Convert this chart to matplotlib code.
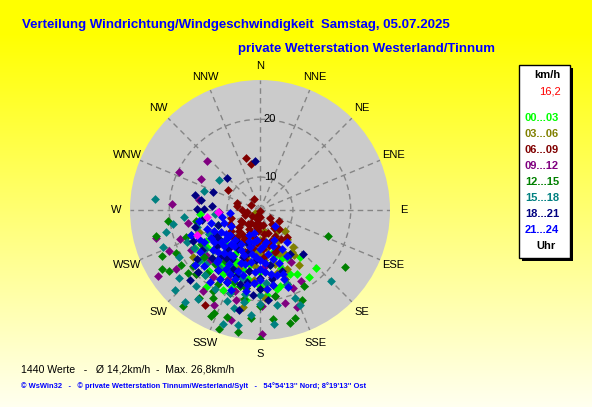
import numpy as np
import matplotlib
matplotlib.use("Agg")
import matplotlib.pyplot as plt
from matplotlib.patches import Rectangle

plt.rcParams['font.family'] = ['Liberation Sans', 'DejaVu Sans']

# wind samples: (direction in degrees, speed in km/h)
h00_03 = [(136, 18.3), (144, 18.7), (168, 18.3), (189, 20.0), (266, 14.7), (240, 17.3), (215, 20.6),
          (200, 12.0), (210, 13.0), (220, 14.0), (230, 15.0), (190, 14.0), (180, 15.0), (170, 16.0),
          (160, 15.0), (150, 14.0), (200, 16.0), (210, 17.0), (220, 18.0), (230, 17.5), (240, 15.0),
          (195, 18.0), (185, 17.0), (175, 13.0), (165, 12.0), (155, 16.5), (205, 15.0), (225, 12.5),
          (235, 13.0), (245, 14.0), (250, 12.0), (215, 16.0), (190, 16.5), (150, 17.0), (140, 15.0),
          (160, 12.5), (175, 19.0), (205, 19.5), (230, 11.0), (200, 10.0),
          (195, 13.0), (185, 11.5), (205, 14.0), (215, 11.5), (225, 16.0), (180, 17.5), (170, 14.0),
          (160, 17.0), (200, 18.5), (210, 15.5), (190, 19.0), (235, 15.5), (220, 19.0), (165, 18.0),
          (155, 13.5), (195, 15.0), (240, 13.0)]
h03_06 = [(137, 11.2), (138, 12.9), (143, 13.5), (157, 12.3), (151, 13.1), (143, 14.0), (176, 18.0),
          (190, 21.4), (177, 19.5), (240, 5.3), (160, 10.0), (170, 11.0), (180, 12.0), (150, 10.5),
          (165, 14.0), (175, 15.0), (185, 14.0), (195, 13.0), (205, 12.0), (155, 15.5), (145, 16.0),
          (160, 17.0), (170, 17.5), (185, 16.5), (200, 15.0), (215, 14.5), (130, 10.0), (140, 9.0),
          (165, 8.5), (200, 9.5), (235, 18.5), (250, 15.5),
          (185, 12.0), (195, 11.0), (175, 13.0), (165, 15.5), (190, 18.0), (205, 16.5), (215, 17.0),
          (155, 12.5), (180, 9.5), (170, 8.0)]
h06_09 = [(180, 4.5), (280, 8.3), (302, 10.9), (349, 12.4), (345, 13.6), (135, 9.0), (142, 8.3),
          (200, 7.0), (210, 8.0), (190, 6.5), (220, 7.5), (230, 9.0), (170, 7.0), (160, 8.5),
          (150, 9.5), (205, 10.0), (215, 9.5), (240, 8.0), (250, 7.0), (195, 9.0), (185, 8.0),
          (175, 9.5), (225, 11.0), (235, 10.5), (180, 5.5), (200, 5.2), (140, 7.5), (130, 6.5),
          (210, 11.5), (190, 11.0), (165, 10.5), (245, 10.0), (260, 6.5), (220, 12.5), (200, 12.0),
          (155, 11.5), (230, 6.0), (120, 8.0), (300, 6.0), (330, 6.5), (287, 8.5), (210, 23.3),
          (215, 14.0), (195, 13.5), (175, 12.5), (160, 12.0), (145, 10.5), (255, 9.5), (270, 7.5),
          (135, 11.0),
          (190, 7.5), (205, 8.5), (215, 7.0), (225, 9.5), (185, 10.0), (195, 11.5), (180, 7.0),
          (170, 8.5), (210, 10.0), (220, 10.5), (175, 11.0), (200, 6.0), (235, 8.0), (160, 10.0)]
h09_12 = [(313, 16.8), (295, 19.7), (298, 15.9), (274, 19.5), (279, 15.0), (267, 11.4), (260, 17.0),
          (246, 21.6), (237, 25.4), (157, 19.0), (149, 14.7), (179, 25.8), (179, 21.0), (170, 19.4),
          (206, 22.6), (197, 19.0), (159, 22.3), (170, 16.0), (190, 15.0), (200, 14.0), (210, 16.0),
          (220, 13.0), (230, 16.5), (240, 18.0), (250, 19.0), (225, 20.0), (185, 12.5), (175, 14.0),
          (165, 21.0), (215, 21.5), (235, 22.0), (195, 24.0), (150, 18.5), (255, 23.0),
          (205, 17.5), (195, 20.5), (215, 18.5), (185, 17.0), (225, 16.5)]
h12_15 = [(111, 16.9), (263, 20.3), (256, 22.8), (239, 24.1), (219, 25.6), (180, 26.6), (124, 22.0),
          (155, 21.4), (162, 23.9), (173, 23.3), (190, 25.8), (197, 23.7), (204, 23.9), (215, 22.8),
          (236, 23.3), (243, 20.7), (229, 20.9), (208, 21.6), (199, 26.1), (210, 19.0), (220, 18.5),
          (230, 17.0), (240, 16.0), (250, 18.0), (200, 17.5), (190, 20.0), (180, 21.0), (170, 19.5),
          (160, 18.0), (215, 15.0), (225, 20.0), (235, 21.0), (245, 23.0), (205, 24.5), (185, 23.0),
          (195, 18.0), (210, 13.5), (165, 24.5), (150, 19.5), (260, 15.5),
          (200, 19.5), (210, 20.5), (190, 18.0), (220, 16.5), (180, 18.0), (230, 19.5)]
h15_18 = [(276, 22.6), (306, 13.1), (289, 14.5), (265, 12.1), (261, 19.5), (257, 21.0), (249, 22.3),
          (246, 18.1), (227, 24.5), (135, 21.8), (157, 22.1), (173, 24.2), (191, 24.6), (198, 25.0),
          (195, 21.8), (158, 20.7), (219, 24.9), (210, 20.0), (220, 21.5), (230, 19.0), (240, 20.5),
          (250, 17.0), (235, 16.0), (225, 17.5), (205, 18.0), (200, 21.0), (190, 19.0), (180, 20.5),
          (170, 21.0), (160, 18.0), (215, 23.0), (205, 15.5), (195, 16.5), (185, 22.5), (245, 14.0),
          (255, 15.5), (265, 17.5), (230, 22.5), (175, 17.0),
          (200, 19.5), (210, 18.0), (190, 20.5), (220, 19.0), (230, 18.0), (180, 19.0), (215, 16.5),
          (240, 17.5)]
h18_21 = [(354, 12.8), (314, 12.3), (291, 13.1), (275, 12.6), (271, 14.0), (271, 15.2), (260, 14.5),
          (232, 18.2), (136, 14.9), (145, 13.5), (192, 22.0), (225, 19.5), (220, 15.0), (230, 14.0),
          (240, 13.0), (250, 12.0), (210, 14.0), (200, 13.0), (190, 15.0), (180, 16.0), (170, 14.0),
          (215, 17.0), (205, 18.0), (195, 17.5), (185, 19.0), (235, 16.5), (245, 17.0), (255, 16.0),
          (200, 10.5), (215, 11.0), (230, 11.5), (240, 10.0), (160, 15.5), (175, 20.0), (225, 21.5),
          (280, 14.7), (283, 15.8),
          (195, 12.0), (205, 15.5), (215, 14.5), (185, 13.0), (225, 16.0), (235, 13.0), (200, 16.5),
          (190, 17.0), (210, 12.0), (220, 13.0), (180, 18.0), (170, 16.5)]
h21_24 = [(200, 10.0), (210, 11.0), (220, 12.0), (230, 13.0), (240, 12.0), (250, 11.0), (190, 12.0),
          (180, 13.0), (170, 12.0), (160, 14.0), (200, 14.0), (210, 15.0), (220, 16.0), (230, 15.0),
          (240, 14.0), (250, 14.0), (195, 16.0), (185, 17.0), (175, 15.0), (165, 16.0), (205, 18.0),
          (215, 17.0), (225, 18.0), (235, 17.0), (245, 16.0), (255, 13.0), (260, 11.0), (265, 9.5),
          (200, 12.5), (210, 13.5), (220, 14.0), (230, 11.0), (240, 10.0), (190, 10.0), (180, 11.0),
          (170, 10.0), (150, 12.0), (140, 11.5), (137, 8.0), (161, 17.0), (215, 12.0), (225, 13.0),
          (235, 14.0), (245, 13.0), (205, 16.5), (195, 14.0), (185, 15.0), (200, 19.0), (215, 19.5),
          (230, 19.0), (190, 18.5), (175, 18.0), (160, 18.5), (250, 17.0), (260, 15.0),
          (195, 11.0), (205, 12.0), (215, 13.5), (225, 14.5), (185, 12.5), (175, 13.5), (165, 13.0),
          (200, 15.5), (210, 16.0), (190, 13.5), (180, 14.5), (170, 15.5), (220, 11.0), (230, 12.0),
          (205, 9.0), (195, 8.5), (185, 9.5), (175, 10.5), (160, 11.0), (150, 13.5), (235, 11.5),
          (240, 15.5), (210, 18.0), (190, 17.5), (180, 16.5), (200, 17.0), (220, 15.5), (160, 16.0),
          (170, 17.5), (155, 10.0)]
extra = [(267, 11.6), (248, 16.0), (262, 13.5)]

hour_groups = [h00_03, h03_06, h06_09, h09_12, h12_15, h15_18, h18_21, h21_24]
hour_labels = ['00...03', '03...06', '06...09', '09...12', '12...15', '15...18', '18...21', '21...24']
hour_colors = ['#00ff00', '#808000', '#800000', '#800080', '#008000', '#008080', '#000080', '#0000ff']
extra_color = '#ff00ff'

directions = ['N', 'NNE', 'NE', 'ENE', 'E', 'ESE', 'SE', 'SSE',
              'S', 'SSW', 'SW', 'WSW', 'W', 'WNW', 'NW', 'NNW']
ring_ticks = [10, 20]
speed_min, speed_max = 4.3, 26.8

n_values = 1440
mean_speed = 14.2
max_speed = 26.8
current_speed = 16.2
title = 'Verteilung Windrichtung/Windgeschwindigkeit  Samstag, 05.07.2025'
subtitle = 'private Wetterstation Westerland/Tinnum'
footer = '\u00a9 WsWin32   -   \u00a9 private Wetterstation Tinnum/Westerland/Sylt   -   54\u00b054\'13\'\' Nord; 8\u00b019\'13\'\' Ost'


def de(x):
    return f'{x:.1f}'.replace('.', ',')


W, H = 592, 407
fig = plt.figure(figsize=(W / 100, H / 100), dpi=100)

# background: yellow fading towards the bottom
bg = fig.add_axes([0, 0, 1, 1])
yy = np.linspace(0, 1, H)
blue = np.clip((yy - 0.08) / 0.92, 0, 1) * 0.94
grad = np.ones((H, 1, 3))
grad[:, 0, 2] = blue
bg.imshow(grad, extent=(0, W, H, 0), aspect='auto', interpolation='bilinear')
bg.set_xlim(0, W)
bg.set_ylim(H, 0)
bg.axis('off')

bg.text(22, 25, title, color='#0000ff', fontsize=9.5, fontweight='bold', va='center')
bg.text(238, 49, subtitle, color='#0000ff', fontsize=9.5, fontweight='bold', va='center')
bg.text(21, 369, f'{n_values} Werte   -   \u00d8 {de(mean_speed)}km/h  -  Max. {de(max_speed)}km/h',
        fontsize=7.6, va='center')
bg.text(21, 386, footer, color='#0000ff', fontsize=5.4, fontweight='bold', va='center')

# legend box with shadow
bg.add_patch(Rectangle((522, 68), 51, 193, facecolor='black', edgecolor='none'))
bg.add_patch(Rectangle((519, 65), 51, 193, facecolor='white', edgecolor='black', linewidth=1))
bg.text(547, 75, 'km/h', fontsize=8, fontweight='bold', ha='center', va='center')
bg.text(561, 92, de(current_speed), color='#ff0000', fontsize=8, ha='right', va='center')
for i, (lab, col) in enumerate(zip(hour_labels, hour_colors)):
    bg.text(542, 118 + 16 * i, lab, color=col, fontsize=8, fontweight='bold', ha='center', va='center')
bg.text(546, 246, 'Uhr', fontsize=8, fontweight='bold', ha='center', va='center')

# wind rose
ax = fig.add_axes([130 / W, 1 - 340 / H, 260 / W, 260 / H], projection='polar')
ax.set_theta_zero_location('N')
ax.set_theta_direction(-1)
ax.set_ylim(speed_min, speed_max)
ax.set_facecolor('#cbcbcb')
ax.spines['polar'].set_visible(False)
ax.set_xticks(np.deg2rad(np.arange(0, 360, 22.5)))
ax.set_xticklabels([])
ax.set_yticks(ring_ticks)
ax.set_yticklabels([])
ax.tick_params(length=0)
ax.grid(True, color='#858585', linestyle=(0, (4, 3)), linewidth=1)

for v in ring_ticks:
    ax.annotate(str(v), xy=(0, v), xytext=(10, 0), textcoords='offset pixels',
                ha='center', va='center', fontsize=8)

label_r = speed_min + 144 / 130 * (speed_max - speed_min)
for i, name in enumerate(directions):
    ax.text(np.deg2rad(i * 22.5), label_r, name, ha='center', va='center', fontsize=8, clip_on=False)

ax.plot(0, speed_min, marker='s', color='#999999', markersize=4, zorder=2)

for grp, col in zip(hour_groups, hour_colors):
    th = np.deg2rad([d for d, s in grp])
    r = [s for d, s in grp]
    ax.scatter(th, r, marker='D', s=20, color=col, linewidths=0, zorder=3)
ax.scatter(np.deg2rad([d for d, s in extra]), [s for d, s in extra], marker='D', s=20,
           color=extra_color, linewidths=0, zorder=3)

fig.savefig('out.png', dpi=100)
